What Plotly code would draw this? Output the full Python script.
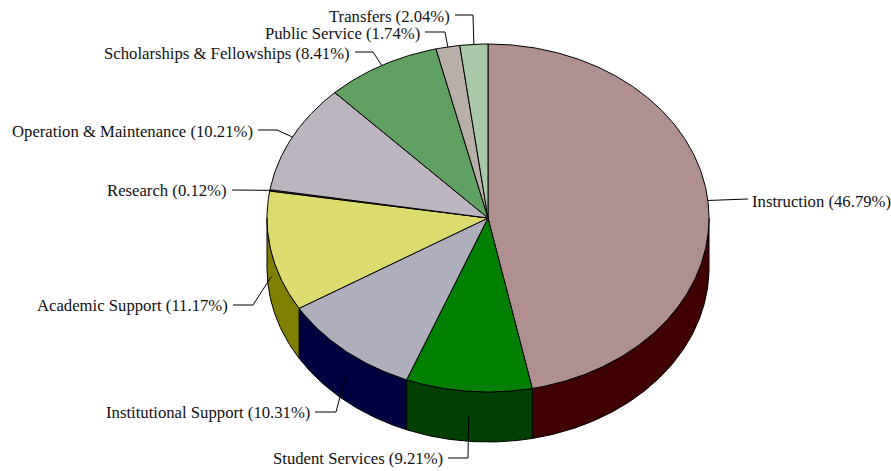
import numpy as np
import plotly.graph_objects as go

# ---------------- data ----------------
categories = ["Instruction", "Student Services", "Institutional Support",
              "Academic Support", "Research", "Operation & Maintenance",
              "Scholarships & Fellowships", "Public Service", "Transfers"]
shares = [46.79, 9.21, 10.31, 11.17, 0.12, 10.21, 8.41, 1.74, 2.04]

# ---------------- styles ----------------
top_colors = ["#B08F90", "#008000", "#AEAEBC", "#DCDC6E", "#6E5E6E",
              "#BCB4BE", "#60A060", "#B8AFA8", "#A8C8A8"]
side_colors = ["#400000", "#004000", "#000040", "#808000", "#372F37",
               "#5E5A5F", "#305030", "#5C5854", "#546454"]

# pie geometry in pixel space
CX, CY, RX, RY, DEPTH = 488, 218, 221, 174, 50

# label layout: text x, text y, anchor, elbow x, elbow y, leader target
label_layout = {
    "Instruction": (750, 201, "left", 748, 199, "top"),
    "Student Services": (445, 458, "right", 468, 458, "side"),
    "Institutional Support": (312, 412, "right", 336, 412, "side"),
    "Academic Support": (230, 305, "right", 253, 305, "side"),
    "Research": (229, 190, "right", 250, 190, "top"),
    "Operation & Maintenance": (255, 131, "right", 277, 130, "top"),
    "Scholarships & Fellowships": (352, 53, "right", 373, 52, "top"),
    "Public Service": (422, 33, "right", 445, 32, "top"),
    "Transfers": (452, 16, "right", 473, 15, "top"),
}

FONT = dict(family="Liberation Serif, Times New Roman, serif", size=16.7, color="#111111")


def pt(theta_deg, dy=0.0):
    t = np.radians(theta_deg)
    return CX + RX * np.sin(t), CY - RY * np.cos(t) + dy


fig = go.Figure()

total = sum(shares)
bounds = []
acc = 0.0
for s in shares:
    a0 = acc / total * 360.0
    acc += s
    a1 = acc / total * 360.0
    bounds.append((a0, a1))

# side faces (front half: 90..270 degrees)
for (a0, a1), col in zip(bounds, side_colors):
    lo, hi = max(a0, 90.0), min(a1, 270.0)
    if hi <= lo:
        continue
    th = np.linspace(lo, hi, max(int((hi - lo) * 2), 2))
    xt, yt = pt(th)
    xb, yb = pt(th[::-1], DEPTH)
    xs = np.concatenate([xt, xb, xt[:1]])
    ys = np.concatenate([yt, yb, yt[:1]])
    fig.add_trace(go.Scatter(x=xs, y=ys, mode="lines", fill="toself",
                             fillcolor=col, line=dict(color="black", width=1),
                             hoverinfo="skip", showlegend=False))

# top faces
for (a0, a1), col in zip(bounds, top_colors):
    th = np.linspace(a0, a1, max(int((a1 - a0) * 2), 2))
    xa, ya = pt(th)
    xs = np.concatenate([[CX], xa, [CX]])
    ys = np.concatenate([[CY], ya, [CY]])
    fig.add_trace(go.Scatter(x=xs, y=ys, mode="lines", fill="toself",
                             fillcolor=col, line=dict(color="black", width=1),
                             hoverinfo="skip", showlegend=False))

# labels with leader lines
for cat, s, (a0, a1) in zip(categories, shares, bounds):
    tx, ty, anchor, ex, ey, target = label_layout[cat]
    mid = (a0 + a1) / 2.0
    px, py = pt(mid, DEPTH / 2.0 if target == "side" else 0.0)
    sx = tx + 3 if anchor == "right" else tx - 2
    fig.add_trace(go.Scatter(x=[sx, ex, px], y=[ey, ey, py], mode="lines",
                             line=dict(color="black", width=1),
                             hoverinfo="skip", showlegend=False))
    fig.add_annotation(x=tx, y=ty, text=f"{cat} ({s:.2f}%)", showarrow=False,
                       xanchor=anchor, yanchor="middle", font=FONT,
                       xref="x", yref="y")

fig.update_layout(
    width=891, height=471,
    margin=dict(l=0, r=0, t=0, b=0),
    paper_bgcolor="white", plot_bgcolor="white",
    xaxis=dict(range=[0, 891], visible=False, fixedrange=True),
    yaxis=dict(range=[471, 0], visible=False, fixedrange=True),
    showlegend=False,
)

fig.write_html("out.html",
               config={"displayModeBar": False},
               post_script="document.body.style.margin='0';document.body.style.overflow='hidden';")
